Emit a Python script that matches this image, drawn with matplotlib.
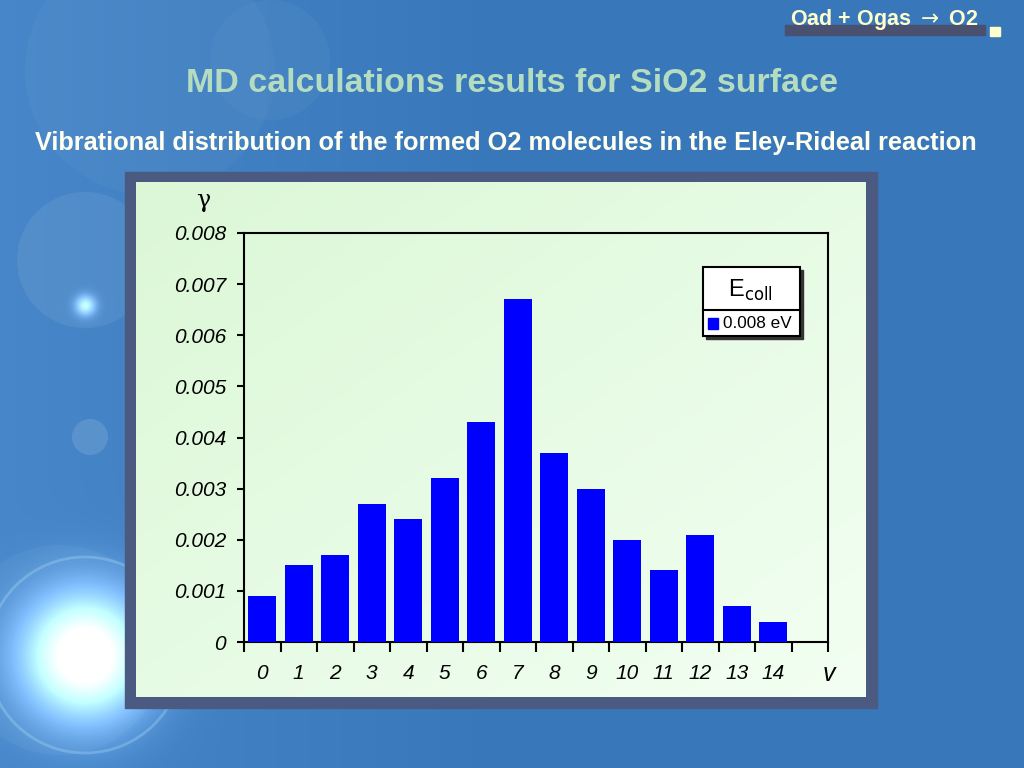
import numpy as np
import matplotlib
matplotlib.use("Agg")
import matplotlib.pyplot as plt
from matplotlib.patches import Rectangle, Circle

plt.rcParams['font.family'] = ['Liberation Sans', 'DejaVu Sans']

# ---- data ----
levels = list(range(15))
gamma = [0.0009, 0.0015, 0.0017, 0.0027, 0.0024, 0.0032, 0.0043, 0.0067,
         0.0037, 0.0030, 0.0020, 0.0014, 0.0021, 0.0007, 0.0004]
yticks = [0, 0.001, 0.002, 0.003, 0.004, 0.005, 0.006, 0.007, 0.008]
ytick_labels = ['0', '0.001', '0.002', '0.003', '0.004', '0.005', '0.006', '0.007', '0.008']
series_label = '0.008 eV'
title = 'MD calculations results for SiO2 surface'
subtitle = 'Vibrational distribution of the formed O2 molecules in the Eley-Rideal reaction'
corner = r'Oad + Ogas $\rightarrow$ O2'

W, H = 1024, 768
fig = plt.figure(figsize=(W / 100, H / 100), dpi=100)

def fx(px):
    return px / W

def fy(py):
    return 1 - py / H

# ---- background ----
bg = fig.add_axes([0, 0, 1, 1])
bg.axis('off')
yy, xx = np.mgrid[0:H, 0:W]
base = np.array([0.22, 0.47, 0.73])
grad = np.clip(1 - xx / 500, 0, 1)[..., None] * 0.06
img = np.ones((H, W, 3)) * base + grad
d = np.sqrt((xx - 85) ** 2 + (yy - 655) ** 2)
img += np.exp(-(d / 60) ** 2)[..., None] * 0.9
d2 = np.sqrt((xx - 85) ** 2 + (yy - 305) ** 2)
img += np.exp(-(d2 / 10) ** 2)[..., None] * 0.5
img = np.clip(img, 0, 1)
bg.imshow(img, extent=(0, W, H, 0), aspect='auto', zorder=0)
for (cx, cy, r, a) in [(85, 260, 68, 0.07), (90, 437, 18, 0.12), (150, 70, 125, 0.03),
                       (60, 650, 105, 0.04), (270, 60, 60, 0.03)]:
    bg.add_patch(Circle((cx, cy), r, color='white', alpha=a, lw=0, zorder=1))
bg.add_patch(Circle((85, 655), 98, fill=False, ec='#ccf0ff', alpha=0.25, lw=2, zorder=1))

# frame panel
bg.add_patch(Rectangle((125, 172), 752, 536, color='#4a5a80', zorder=2))
py_, px_ = np.mgrid[0:515, 0:730]
t = np.clip((px_ / 730 + py_ / 515) / 2, 0, 1)
c1 = np.array([0.86, 0.97, 0.84])
c2 = np.array([0.95, 1.0, 0.95])
pan = c1 + (c2 - c1) * t[..., None]
bg.imshow(pan, extent=(136, 866, 697, 182), aspect='auto', zorder=3)
bg.set_xlim(0, W)
bg.set_ylim(H, 0)

# titles
fig.text(fx(512), fy(84), title, ha='center', va='center', fontsize=24.5,
         fontweight='bold', color='#b4dcc0')
fig.text(fx(506), fy(143), subtitle, ha='center', va='center', fontsize=18.3,
         fontweight='bold', color='#fffff0')

# corner label
bg.add_patch(Rectangle((785, 25), 200, 10, color='#4a5070', zorder=4))
fig.text(fx(884), fy(20), corner, ha='center', va='center', fontsize=15.5,
         fontweight='bold', color='#ffffcc', zorder=5)
bg.add_patch(Rectangle((990, 27), 10, 9, color='#ffffcc', zorder=4))

# ---- chart ----
ax = fig.add_axes([fx(244), fy(642), fx(828) - fx(244), fy(233) - fy(642)])
ax.patch.set_alpha(0)
bar_color = '#0000ff'
ax.bar(np.array(levels) + 0.5, gamma, width=0.78, color=bar_color, zorder=3)
ax.set_xlim(0, 16)
ax.set_ylim(0, 0.008)
ax.set_yticks(yticks)
ax.set_yticklabels(ytick_labels, fontsize=15, fontstyle='italic')
ax.set_xticks(range(17))
ax.set_xticklabels([])
ax.set_xticks(np.array(levels) + 0.5, minor=True)
ax.set_xticklabels([str(v) for v in levels], minor=True, fontsize=15, fontstyle='italic')
ax.tick_params(axis='x', which='major', direction='out', length=7, width=1.5)
ax.tick_params(axis='x', which='minor', length=0, pad=16)
ax.tick_params(axis='y', direction='out', length=5, width=1.5, pad=8)
for s in ax.spines.values():
    s.set_linewidth(1.5)
    s.set_color('black')

fig.text(fx(203), fy(200), 'γ', ha='center', va='center', fontsize=17,
         family=['DejaVu Serif'])
fig.text(fx(829), fy(674), 'v', ha='center', va='center', fontsize=18, fontstyle='italic')

# legend (manual)
bg.add_patch(Rectangle((706, 270), 97, 69, color='#333333', zorder=6))
bg.add_patch(Rectangle((703, 267), 97, 69, fc='white', ec='black', lw=1.5, zorder=7))
bg.plot([703, 800], [310, 310], color='black', lw=1.5, zorder=8)
fig.text(fx(750), fy(290), r'E$_{\mathrm{coll}}$', ha='center', va='center', fontsize=17, zorder=9)
bg.add_patch(Rectangle((708, 318), 10, 11, color=bar_color, zorder=8))
fig.text(fx(723), fy(323), series_label, ha='left', va='center', fontsize=12.3, zorder=9)

fig.savefig('out.png', dpi=100)
